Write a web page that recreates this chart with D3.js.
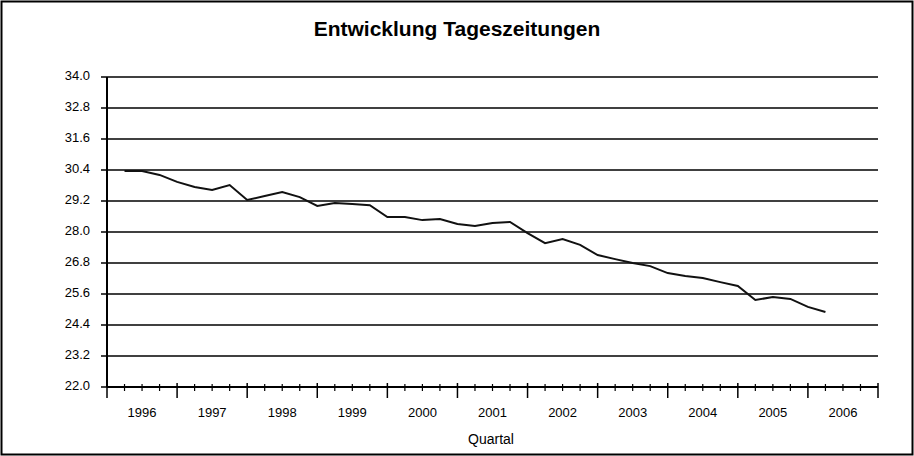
<!DOCTYPE html>
<html><head><meta charset="utf-8">
<script src="https://cdn.jsdelivr.net/npm/d3@7"></script>
<style>body{margin:0;background:#fff}svg{display:block;font-family:"Liberation Sans",Arial,sans-serif}</style>
</head><body>
<div id="chart"></div>
<script>
const years = ["1996","1997","1998","1999","2000","2001","2002","2003","2004","2005","2006"];
const yTicks = [22.0,23.2,24.4,25.6,26.8,28.0,29.2,30.4,31.6,32.8,34.0];
const values = [30.36,30.36,30.21,29.94,29.74,29.63,29.82,29.24,29.39,29.55,29.35,29.01,29.12,29.08,29.04,
  28.58,28.58,28.46,28.50,28.31,28.23,28.35,28.39,27.96,27.57,27.73,27.50,27.11,26.95,26.80,26.68,
  26.41,26.30,26.22,26.06,25.91,25.37,25.48,25.41,25.10,24.90];

const W = 914, H = 456;
const svg = d3.select("#chart").append("svg").attr("width", W).attr("height", H);
svg.append("rect").attr("x", 1.5).attr("y", 1.5).attr("width", W - 3).attr("height", H - 3)
  .attr("fill", "none").attr("stroke", "#000").attr("stroke-width", 2);

const x = d3.scaleLinear().domain([0, years.length * 4]).range([107, 878]);
const y = d3.scaleLinear().domain([22, 34]).range([387, 77]);

svg.selectAll(".grid").data(yTicks.slice(1)).enter().append("line")
  .attr("x1", 107).attr("x2", 878).attr("y1", d => y(d)).attr("y2", d => y(d))
  .attr("stroke", "#000").attr("stroke-width", 1.5);

svg.selectAll(".ylab").data(yTicks).enter().append("text")
  .attr("x", 90).attr("y", d => y(d)).attr("text-anchor", "end").attr("dominant-baseline", "middle")
  .attr("font-size", "13px").text(d => d.toFixed(1));
svg.selectAll(".ytick").data(yTicks).enter().append("line")
  .attr("x1", 101).attr("x2", 107).attr("y1", d => y(d)).attr("y2", d => y(d)).attr("stroke", "#000").attr("stroke-width", 1.5);

svg.append("line").attr("x1", 107).attr("x2", 107).attr("y1", 77).attr("y2", 387).attr("stroke", "#000").attr("stroke-width", 2);
svg.append("line").attr("x1", 107).attr("x2", 878).attr("y1", y(22)).attr("y2", y(22)).attr("stroke", "#000").attr("stroke-width", 2);

const ticks = d3.range(0, years.length * 4 + 1);
svg.selectAll(".xtick").data(ticks).enter().append("line")
  .attr("x1", d => x(d)).attr("x2", d => x(d))
  .attr("y1", d => d % 4 === 0 ? 383 : 384).attr("y2", d => d % 4 === 0 ? 398 : 391)
  .attr("stroke", "#000").attr("stroke-width", d => d % 4 === 0 ? 1.5 : 1.2);

svg.selectAll(".xlab").data(years).enter().append("text")
  .attr("x", (d, i) => x(i * 4 + 2)).attr("y", 414).attr("text-anchor", "middle").attr("dominant-baseline", "middle")
  .attr("font-size", "13px").text(d => d);

svg.append("path").datum(values)
  .attr("fill", "none").attr("stroke", "#111").attr("stroke-width", 2)
  .attr("d", d3.line().x((d, i) => x(i + 1)).y(d => y(d)));

svg.append("text").attr("x", 457).attr("y", 30).attr("text-anchor", "middle").attr("dominant-baseline", "middle")
  .attr("font-size", "21px").attr("font-weight", "bold").text("Entwicklung Tageszeitungen");
svg.append("text").attr("x", 491).attr("y", 440).attr("text-anchor", "middle").attr("dominant-baseline", "middle")
  .attr("font-size", "14px").text("Quartal");
</script>
</body></html>
